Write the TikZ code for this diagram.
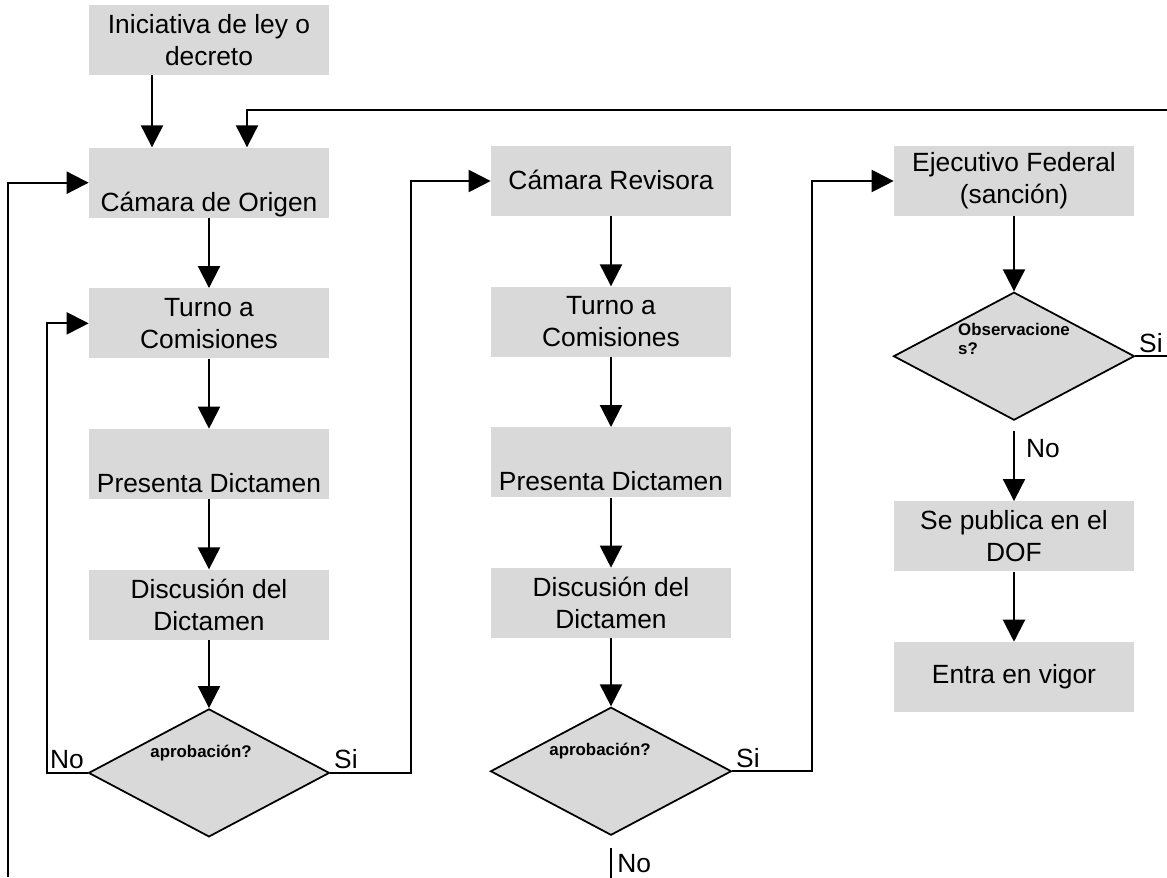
\documentclass[tikz,border=0pt]{standalone}
\usepackage{fontspec}
\setmainfont{Liberation Sans}
\usetikzlibrary{positioning}
\usetikzlibrary{shapes.geometric}
\usetikzlibrary{arrows.meta}

\begin{document}
\begin{tikzpicture}[x=0.02cm, y=-0.02cm, node distance=1.4cm,
    caja/.style={fill=black!15, minimum width=4.8cm, minimum height=1.4cm, inner sep=0pt, align=center, font=\fontsize{15}{18.2}\selectfont},
    cajabaja/.style={caja, text height=1.27cm, text depth=0.13cm},
    decision/.style={diamond, draw, line width=1pt, fill=black!15, minimum width=4.82cm, minimum height=2.56cm, inner sep=0pt},
    pregunta/.style={font=\fontsize{9.6}{10.8}\selectfont\bfseries, inner sep=0pt},
    etiq/.style={font=\fontsize{15}{18}\selectfont, inner sep=2pt},
    linea/.style={line width=1.2pt},
    flecha/.style={linea, -{Triangle[length=0.44cm, width=0.44cm]}}]

    \useasboundingbox (0,0) rectangle (1167,877);

    % camara de origen
    \node[caja] (ini) at (209,40) {Iniciativa de ley o\\decreto};
    \node[cajabaja, below=1.44cm of ini] (cam1) {Cámara de Origen};
    \node[caja, below=of cam1] (tur1) {Turno a\\Comisiones};
    \node[cajabaja, below=of tur1] (pre1) {Presenta Dictamen};
    \node[caja, below=of pre1] (dis1) {Discusión del\\Dictamen};
    \node[decision, below=1.36cm of dis1, label={[pregunta, name=q1, xshift=-0.16cm, yshift=0.4cm]center:aprobación?}] (dec1) {};

    % camara revisora
    \node[cajabaja, text height=0.87cm, text depth=0.53cm] (cam2) at (611,181) {Cámara Revisora};
    \node[caja, below=of cam2] (tur2) {Turno a\\Comisiones};
    \node[cajabaja, below=of tur2] (pre2) {Presenta Dictamen};
    \node[caja, below=of pre2] (dis2) {Discusión del\\Dictamen};
    \node[decision, below=1.36cm of dis2, label={[pregunta, name=q2, xshift=-0.22cm, yshift=0.4cm]center:aprobación?}] (dec2) {};

    % ejecutivo
    \node[caja] (eje) at (1014,181) {Ejecutivo Federal\\(sanción)};
    \node[decision, below=1.5cm of eje, label={[pregunta, name=q3, align=left, yshift=0.34cm]center:Observacione\\s?}] (dec3) {};
    \node[caja, below=1.6cm of dec3] (pub) {Se publica en el\\DOF};
    \node[caja, below=1.4cm of pub] (vig) {Entra en vigor};

    \coordinate (retorno) at (1167,110);
    \coordinate (izq) at (8,877);
    \coordinate (salida) at (1167,353);

    \draw[flecha] ([xshift=-1.14cm]ini.south) -- ([xshift=-1.14cm]cam1.north);
    \draw[flecha] (retorno) -| ([xshift=0.76cm]cam1.north);
    \draw[flecha] (izq) |- (cam1.west);
    \draw[flecha] (cam1.south) -- (tur1.north);
    \draw[flecha] (tur1.south) -- (pre1.north);
    \draw[flecha] (pre1.south) -- (dis1.north);
    \draw[flecha] (dis1.south) -- (dec1.north);
    \draw[flecha] (dec1.west) -- ++(-0.82cm,0) |- (tur1.west);
    \draw[flecha] (dec1.east) -- ++(1.62cm,0) |- (cam2.west);
    \node[etiq, anchor=south east] (no1) at (dec1.west) {No};
    \node[etiq, anchor=south west] (si1) at (dec1.east) {Si};

    \draw[flecha] (cam2.south) -- (tur2.north);
    \draw[flecha] (tur2.south) -- (pre2.north);
    \draw[flecha] (pre2.south) -- (dis2.north);
    \draw[flecha] (dis2.south) -- (dec2.north);
    \draw[flecha] (dec2.east) -- ++(1.6cm,0) |- (eje.west);
    \node[etiq, anchor=south west] (si2) at (dec2.east) {Si};
    \draw[linea] ([yshift=-0.24cm]dec2.south) -- ++(0,-0.8cm) node[etiq, pos=0, anchor=north west, inner sep=3pt] (no2) {No};

    \draw[flecha] (eje.south) -- (dec3.north);
    \draw[linea] (dec3.east) -- (dec3.east -| salida);
    \node[etiq, anchor=south west] (si3) at (dec3.east) {Si};
    \draw[flecha] ([yshift=-0.2cm]dec3.south) -- (pub.north) node[etiq, pos=0.25, right=0.15cm] (no3) {No};
    \draw[flecha] (pub.south) -- (vig.north);

\end{tikzpicture}
\end{document}
